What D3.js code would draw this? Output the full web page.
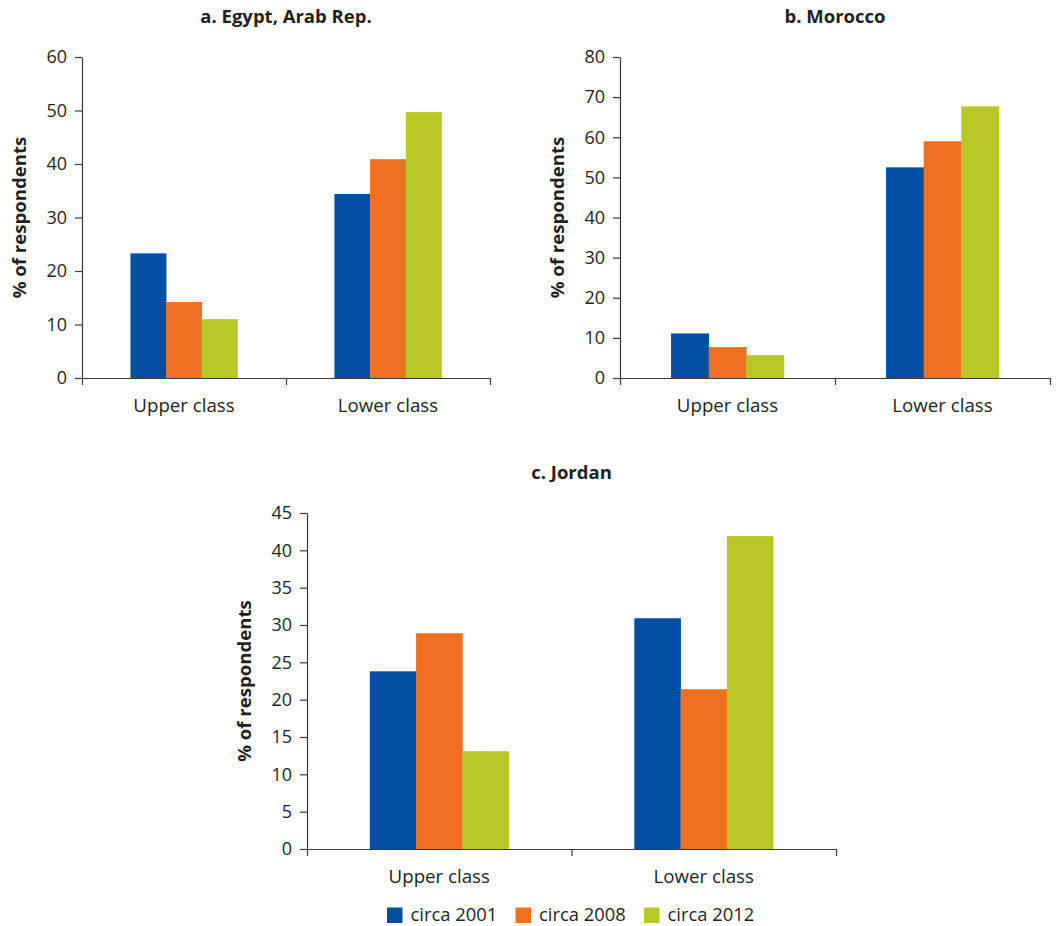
<!DOCTYPE html>
<html>
<head>
<meta charset="utf-8">
<script src="https://cdn.jsdelivr.net/npm/d3@7"></script>
<style>
  html, body { margin: 0; padding: 0; background: #fff; }
  svg { display: block; font-family: "Open Sans", "Noto Sans", sans-serif; }
</style>
</head>
<body>
<svg id="chart" width="1064" height="926"></svg>
<script>
// ---- data ----
const categories = ["Upper class", "Lower class"];
const seriesNames = ["circa 2001", "circa 2008", "circa 2012"];

const egypt2001 = [23.3, 34.4];
const egypt2008 = [14.2, 40.9];
const egypt2012 = [11.0, 49.7];

const morocco2001 = [11.1, 52.5];
const morocco2008 = [7.7, 59.0];
const morocco2012 = [5.7, 67.7];

const jordan2001 = [23.8, 30.9];
const jordan2008 = [28.9, 21.4];
const jordan2012 = [13.1, 41.9];

const egyptTicks = [0, 10, 20, 30, 40, 50, 60];
const moroccoTicks = [0, 10, 20, 30, 40, 50, 60, 70, 80];
const jordanTicks = [0, 5, 10, 15, 20, 25, 30, 35, 40, 45];

const panelTitles = ["a. Egypt, Arab Rep.", "b. Morocco", "c. Jordan"];
const yLabel = "% of respondents";

// ---- styles ----
const colors = ["#034ea2", "#f07022", "#b8c925"];
const textColor = "#231f20";
const axisColor = "#3a3a3a";

const svg = d3.select("#chart");

const panels = [
  { title: panelTitles[0], series: [egypt2001, egypt2008, egypt2012], ticks: egyptTicks,
    left: 82, right: 490, top: 57, bottom: 378 },
  { title: panelTitles[1], series: [morocco2001, morocco2008, morocco2012], ticks: moroccoTicks,
    left: 620, right: 1050, top: 57, bottom: 378 },
  { title: panelTitles[2], series: [jordan2001, jordan2008, jordan2012], ticks: jordanTicks,
    left: 307, right: 836, top: 513, bottom: 849 }
];

panels.forEach(p => {
  const g = svg.append("g");
  const y = d3.scaleLinear()
    .domain([0, d3.max(p.ticks)])
    .range([p.bottom, p.top]);
  const x0 = d3.scaleBand().domain(categories).range([p.left, p.right]).padding(0);
  const x1 = d3.scaleBand().domain(seriesNames).range([0, x0.bandwidth()])
    .paddingInner(0).paddingOuter(1.357);

  // bars
  categories.forEach((c, ci) => {
    seriesNames.forEach((s, si) => {
      const v = p.series[si][ci];
      g.append("rect")
        .attr("x", x0(c) + x1(s))
        .attr("y", y(v))
        .attr("width", x1.bandwidth() + 0.3)
        .attr("height", y(0) - y(v))
        .attr("fill", colors[si]);
    });
  });

  // y axis
  const yAxis = g.append("g")
    .attr("transform", `translate(${p.left},0)`)
    .call(d3.axisLeft(y).tickValues(p.ticks).tickSize(7).tickSizeOuter(0).tickPadding(8));
  yAxis.select(".domain").attr("stroke", axisColor).attr("stroke-width", 1.2);
  yAxis.selectAll(".tick line").attr("stroke", axisColor).attr("stroke-width", 1.2);
  yAxis.selectAll(".tick text")
    .attr("fill", textColor)
    .style("font-size", "18px")
    .style("font-family", "'Open Sans', sans-serif");

  // x axis: ticks at category boundaries
  const xb = d3.scaleLinear().domain([0, categories.length]).range([p.left, p.right]);
  const xAxis = g.append("g")
    .attr("transform", `translate(0,${p.bottom})`)
    .call(d3.axisBottom(xb).tickValues(d3.range(categories.length + 1)).tickSize(7).tickSizeOuter(0).tickFormat(""));
  xAxis.select(".domain").attr("stroke", axisColor).attr("stroke-width", 1.2);
  xAxis.selectAll(".tick line").attr("stroke", axisColor).attr("stroke-width", 1.2);

  // category labels
  g.selectAll(".cat").data(categories).enter().append("text")
    .attr("x", d => x0(d) + x0.bandwidth() / 2)
    .attr("y", p.bottom + 34)
    .attr("text-anchor", "middle")
    .attr("fill", textColor)
    .style("font-size", "18.7px")
    .text(d => d);

  // title
  g.append("text")
    .attr("x", (p.left + p.right) / 2)
    .attr("y", p.top - 34)
    .attr("text-anchor", "middle")
    .attr("fill", textColor)
    .style("font-size", "18.5px")
    .style("font-weight", "bold")
    .text(p.title);

  // y label
  g.append("text")
    .attr("transform", `translate(${p.left - 64},${(p.top + p.bottom) / 2}) rotate(-90)`)
    .attr("text-anchor", "middle")
    .attr("dominant-baseline", "central")
    .attr("fill", textColor)
    .style("font-size", "18.6px")
    .style("font-weight", "bold")
    .text(yLabel);
});

// legend
const legendX = [387, 515.5, 644];
const legend = svg.append("g");
seriesNames.forEach((s, i) => {
  legend.append("rect")
    .attr("x", legendX[i]).attr("y", 907.5)
    .attr("width", 15.5).attr("height", 15.5)
    .attr("fill", colors[i]);
  legend.append("text")
    .attr("x", legendX[i] + 23.5).attr("y", 920.5)
    .attr("fill", textColor)
    .style("font-size", "18.4px")
    .text(s);
});
</script>
</body>
</html>
